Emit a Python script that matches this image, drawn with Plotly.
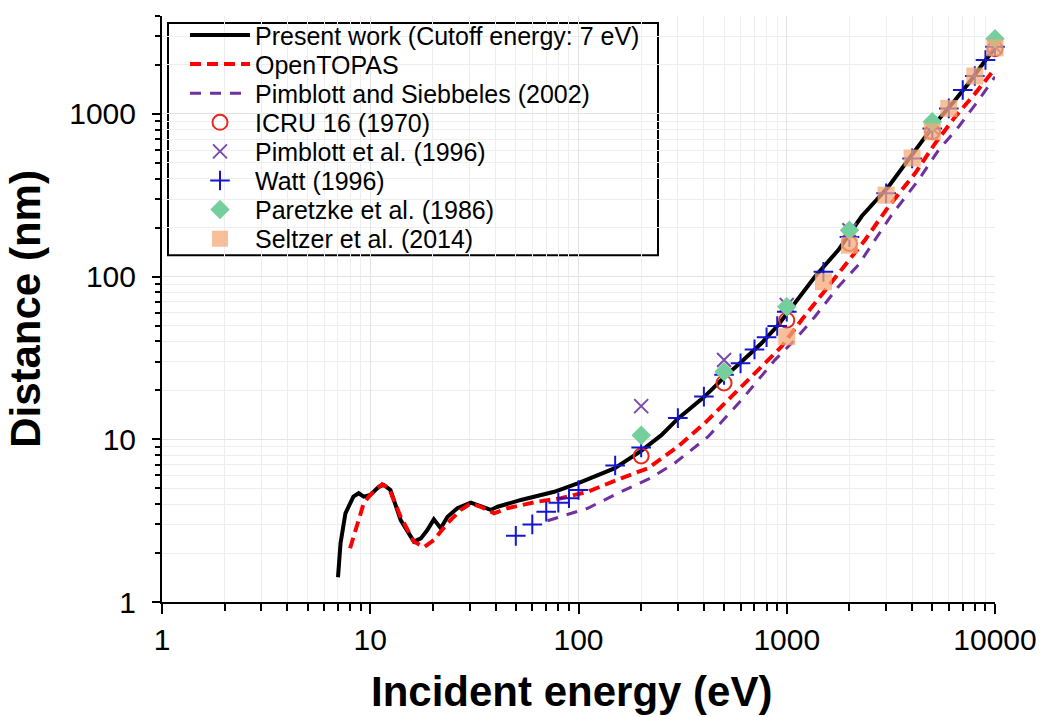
import plotly.graph_objects as go
import math

# ---------------- data ----------------
present_E = [7.0, 7.2, 7.6, 8.3, 8.8, 9.3, 10.0, 11.0, 11.6, 12.5, 14.0, 16.2, 17.5, 18.8, 20.2, 21.8,
             23.5, 26.2, 30.4, 33.9, 37.9, 40.9, 52.9, 76.5, 99.1, 148.7, 200, 250, 300, 403, 503, 606,
             756, 910, 1093, 1365, 1769, 2290, 3078, 4134, 5159, 6440, 7470, 8659, 10000]
present_D = [1.42, 2.30, 3.51, 4.44, 4.66, 4.44, 4.55, 5.11, 5.24, 4.88, 3.19, 2.35, 2.46, 2.77, 3.22, 2.84,
             3.34, 3.77, 4.08, 3.89, 3.68, 3.85, 4.24, 4.76, 5.36, 6.63, 8.5, 10.6, 13.4, 18.3, 24.2, 30.0,
             38.9, 50.4, 68.5, 99.9, 145.7, 235, 357, 600, 875, 1217, 1542, 1998, 2560]

topas_E = [8.0, 9.3, 10.0, 11.4, 12.3, 14.0, 16.2, 18.1, 20.2, 23.5, 27.2, 30.4, 33.9, 39.3, 45.6, 63.6,
           82.4, 110.7, 160.2, 215, 300, 403, 562, 756, 943, 1178, 1583, 2049, 2376, 3078, 4134, 5159,
           6440, 8040, 10000]
topas_D = [2.14, 4.04, 4.55, 5.29, 5.00, 3.34, 2.35, 2.17, 2.40, 3.05, 3.68, 4.04, 3.85, 3.51, 3.77, 4.14,
           4.34, 4.76, 5.76, 6.63, 9.01, 12.54, 19.17, 27.94, 37.09, 54.1, 86.7, 132.6, 167.9, 268.9, 431.4,
           659.6, 961, 1338, 1900]

ps2002_E = [71, 110.7, 160, 220, 289, 419, 606, 876, 1093, 1365, 1769, 2207, 3193, 4292, 5358, 6690,
            8346, 10000]
ps2002_D = [3.16, 3.77, 4.76, 5.75, 7.12, 10.37, 17.44, 30.7, 40.8, 56.7, 86.7, 118, 240, 392.5, 600, 834,
            1217, 1693]

icru_E = [200, 500, 1000, 2000, 5000, 10000]
icru_D = [7.9, 22.2, 54, 160, 777, 2520]

pimblott_E = [200, 500, 1000, 2000, 5000, 10000]
pimblott_D = [16.0, 30.7, 66.9, 193, 815, 2590]

watt_E = [50, 60, 70, 80, 90, 100, 150, 200, 300, 400, 500, 600, 700, 800, 900, 1000, 1500, 2000,
          3000, 4000, 5000, 6000, 7000, 8000, 9000, 10000]
watt_D = [2.55, 3.0, 3.59, 4.08, 4.34, 4.88, 6.9, 8.9, 13.5, 18.3, 24.9, 29.3, 35.7, 42.4, 49.7, 60.8,
          107, 175, 325, 533, 815, 1082, 1403, 1710, 2145, 2590]

paretzke_E = [200, 500, 1000, 2000, 5000, 10000]
paretzke_D = [10.6, 26.0, 65.3, 193, 896, 2900]

seltzer_E = [1000, 1500, 2000, 3000, 4000, 5000, 6000, 8000, 10000]
seltzer_D = [42.7, 93, 156, 317, 536, 777, 1082, 1710, 2550]

x_tickvals = [1, 10, 100, 1000, 10000]
x_ticktext = ["1", "10", "100", "1000", "10000"]
y_tickvals = [1, 10, 100, 1000]
y_ticktext = ["1", "10", "100", "1000"]

names = ["Present work (Cutoff energy: 7 eV)", "OpenTOPAS", "Pimblott and Siebbeles (2002)",
         "ICRU 16 (1970)", "Pimblott et al. (1996)", "Watt (1996)", "Paretzke et al. (1986)",
         "Seltzer et al. (2014)"]

x_title = "Incident energy (eV)"
y_title = "Distance (nm)"

# ---------------- layout geometry ----------------
FONT = "Arial, 'Liberation Sans', sans-serif"
W, H = 1042, 717
PL, PR, PT, PB = 162, 995, 14, 602
pw, ph = PR - PL, PB - PT


def xp(px):
    return (px - PL) / pw


def yp(py):
    return (PB - py) / ph


fig = go.Figure()

fig.add_trace(go.Scatter(x=present_E, y=present_D, mode="lines", name=names[0], showlegend=True,
                         line=dict(color="black", width=4), legend="legend"))
fig.add_trace(go.Scatter(x=topas_E, y=topas_D, mode="lines", name=names[1],
                         line=dict(color="#ff0000", width=4, dash="11px,6px"), legend="legend2"))
fig.add_trace(go.Scatter(x=ps2002_E, y=ps2002_D, mode="lines", name=names[2],
                         line=dict(color="#7030a0", width=3, dash="11px,9px"), legend="legend3"))
fig.add_trace(go.Scatter(x=icru_E, y=icru_D, mode="markers", name=names[3], cliponaxis=False,
                         marker=dict(symbol="circle-open", size=15, color="#e8291c",
                                     line=dict(width=2, color="#e8291c")), legend="legend4"))
fig.add_trace(go.Scatter(x=pimblott_E, y=pimblott_D, mode="markers", name=names[4], cliponaxis=False,
                         marker=dict(symbol="x-thin-open", size=14, color="#7b4aae",
                                     line=dict(width=2, color="#7b4aae")), legend="legend5"))
fig.add_trace(go.Scatter(x=watt_E, y=watt_D, mode="markers", name=names[5], cliponaxis=False,
                         marker=dict(symbol="cross-thin-open", size=14, color="#1515d0",
                                     line=dict(width=2, color="#1515d0")), legend="legend6"))
fig.add_trace(go.Scatter(x=paretzke_E, y=paretzke_D, mode="markers", name=names[6], cliponaxis=False,
                         marker=dict(symbol="diamond", size=15, color="#74cf9c"), legend="legend7"))
fig.add_trace(go.Scatter(x=seltzer_E, y=seltzer_D, mode="markers", name=names[7], cliponaxis=False,
                         marker=dict(symbol="square", size=17, color="rgba(244,170,120,0.75)"),
                         legend="legend8"))

legend_font = dict(family=FONT, size=25, color="black")
legends = {}
for i in range(8):
    key = "legend" if i == 0 else f"legend{i + 1}"
    legends[key] = dict(x=xp(185), y=yp(33.3 + 29.2 * i), xanchor="left", yanchor="middle",
                        bgcolor="rgba(0,0,0,0)", borderwidth=0, font=legend_font, itemwidth=60,
                        visible=True)

axis_common = dict(type="log", showline=True, linecolor="black", linewidth=2, mirror=False,
                   ticks="outside", tickcolor="black", tickwidth=2,
                   showgrid=True, gridcolor="#e3e3e3", gridwidth=1, zeroline=False,
                   tickfont=dict(family=FONT, size=30, color="black"), automargin=False)

fig.update_layout(
    width=W, height=H,
    showlegend=True,
    margin=dict(l=PL, r=W - PR, t=PT, b=H - PB),
    paper_bgcolor="white", plot_bgcolor="white",
    font=dict(family=FONT, color="black"),
    xaxis=dict(axis_common, range=[0, 4], tickvals=x_tickvals, ticktext=x_ticktext, ticklen=10,
               minor=dict(dtick="D1", ticks="outside", ticklen=7, tickcolor="black", tickwidth=1.5,
                          showgrid=True, gridcolor="#eeeeee", gridwidth=1)),
    yaxis=dict(axis_common, range=[0, math.log10(4000)], tickvals=y_tickvals, ticktext=y_ticktext,
               ticklen=8, ticklabelstandoff=10,
               minor=dict(dtick="D1", ticks="outside", ticklen=5, tickcolor="black", tickwidth=1.5,
                          showgrid=True, gridcolor="#eeeeee", gridwidth=1),
               title=dict(text=f"<b>{y_title}</b>", font=dict(family=FONT, size=42), standoff=16)),
    annotations=[dict(text=f"<b>{x_title}</b>", xref="paper", yref="paper", x=xp(571.5), y=yp(692),
                      xanchor="center", yanchor="middle", showarrow=False,
                      font=dict(family=FONT, size=42, color="black"))],
    shapes=[dict(type="rect", xref="paper", yref="paper", x0=xp(168), x1=xp(658), y0=yp(254), y1=yp(21),
                 line=dict(color="black", width=2), fillcolor="white", layer="between")],
    **legends,
)

fig.write_html("out.html", config={"displayModeBar": False},
               post_script="document.body.style.margin='0';document.body.style.overflow='hidden';")
